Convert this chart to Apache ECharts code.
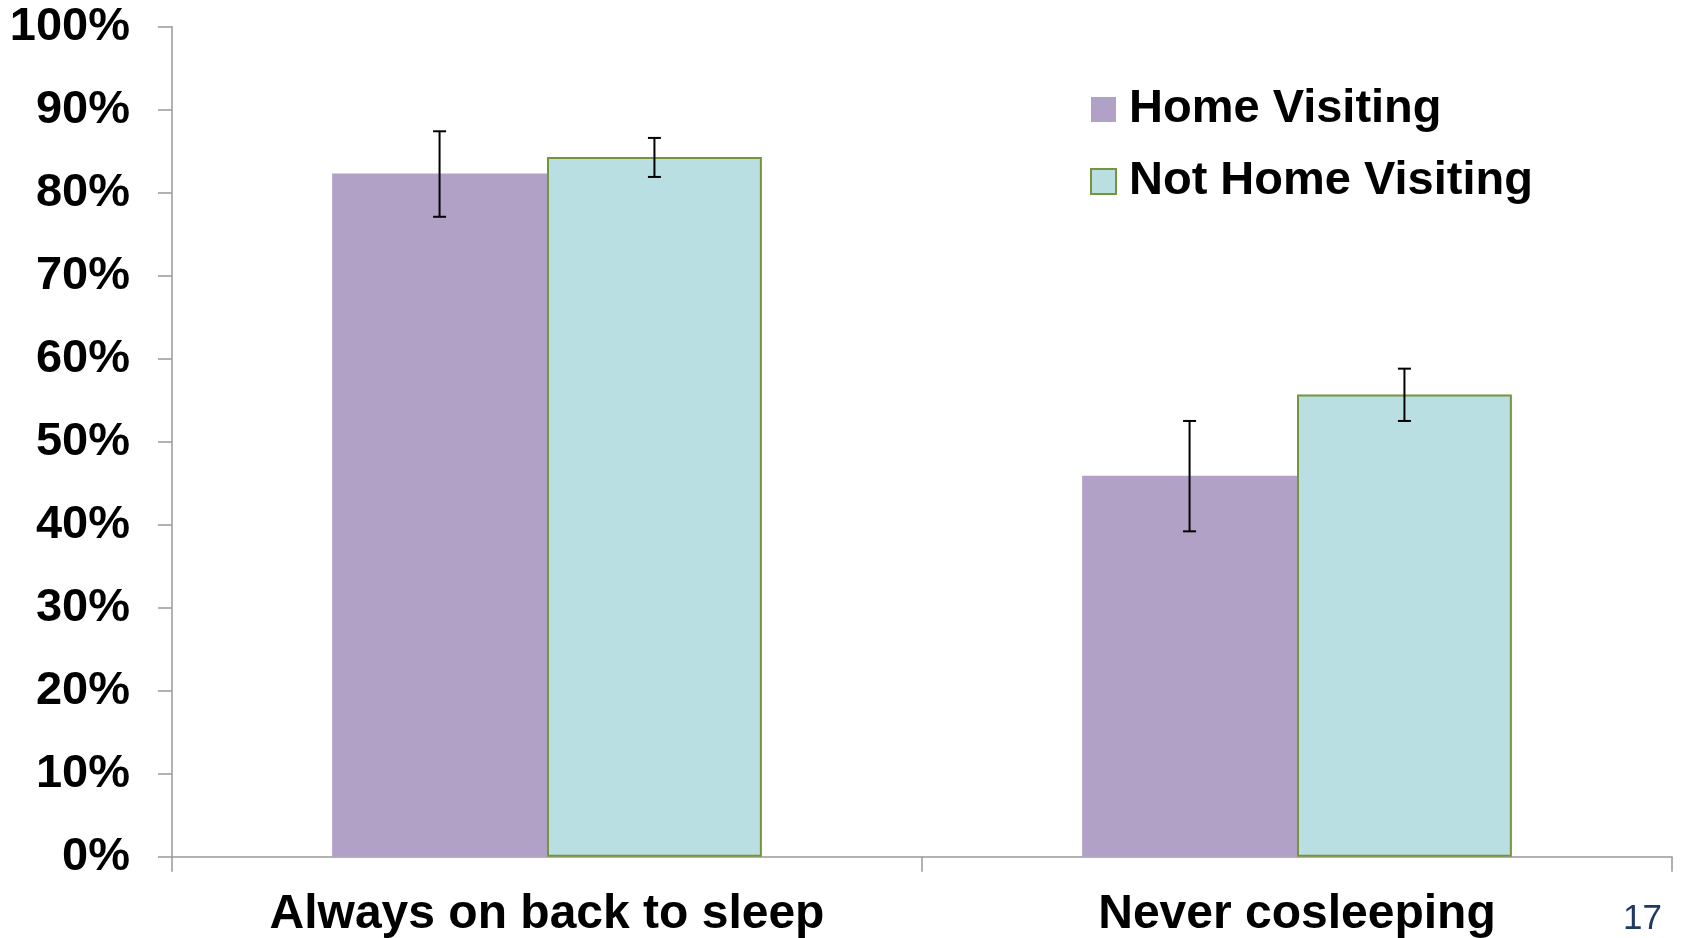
<!DOCTYPE html>
<html>
<head>
<meta charset="utf-8">
<script src="https://cdn.jsdelivr.net/npm/echarts@6/dist/echarts.min.js"></script>
<style>
html,body{margin:0;padding:0;background:#fff;}
#chart{width:1681px;height:938px;}
</style>
</head>
<body>
<div id="chart"></div>
<script>
const categories = ['Always on back to sleep', 'Never cosleeping'];
const seriesNames = ['Home Visiting', 'Not Home Visiting'];
const homeVisiting = [82.3, 45.9];
const homeVisitingLow = [77.1, 39.2];
const homeVisitingHigh = [87.4, 52.5];
const notHomeVisiting = [84.3, 55.7];
const notHomeVisitingLow = [81.9, 52.5];
const notHomeVisitingHigh = [86.6, 58.8];
const yTicks = [0, 10, 20, 30, 40, 50, 60, 70, 80, 90, 100];
const pageNumber = '17';

const CAT_GAP = 0.427;
const FONT = "'Liberation Sans', Arial, sans-serif";

function errorRender(offsetSign) {
  return function (params, api) {
    const ci = api.value(0);
    const lowP = api.coord([ci, api.value(1)]);
    const highP = api.coord([ci, api.value(2)]);
    const catW = api.size([1, 0])[0];
    const barW = catW * (1 - CAT_GAP) / 2;
    const x = lowP[0] + offsetSign * barW / 2;
    const cap = 6.5;
    const style = {stroke: '#000', lineWidth: 2};
    return {
      type: 'group',
      children: [
        {type: 'line', shape: {x1: x, y1: lowP[1], x2: x, y2: highP[1]}, style},
        {type: 'line', shape: {x1: x - cap, y1: lowP[1], x2: x + cap, y2: lowP[1]}, style},
        {type: 'line', shape: {x1: x - cap, y1: highP[1], x2: x + cap, y2: highP[1]}, style}
      ]
    };
  };
}

const chart = echarts.init(document.getElementById('chart'));
chart.setOption({
  animation: false,
  backgroundColor: '#fff',
  grid: {left: 172, right: 9, top: 26.7, bottom: 81.3, containLabel: false, outerBoundsMode: 'none'},
  legend: {
    orient: 'vertical',
    left: 1085,
    top: 80,
    icon: 'rect',
    itemWidth: 25,
    itemHeight: 25,
    itemGap: 23,
    data: seriesNames,
    textStyle: {fontFamily: FONT, fontWeight: 'bold', fontSize: 47, color: '#000', lineHeight: 49, padding: [0, 0, 0, 8]}
  },
  xAxis: {
    type: 'category',
    data: categories,
    axisLine: {lineStyle: {color: '#999', width: 1.5}},
    axisTick: {show: true, length: 15, lineStyle: {color: '#999', width: 1.5}},
    axisLabel: {fontFamily: FONT, fontWeight: 'bold', fontSize: 48, color: '#000', margin: 34}
  },
  yAxis: {
    type: 'value',
    min: 0,
    max: 100,
    interval: 10,
    splitLine: {show: false},
    axisLine: {show: true, lineStyle: {color: '#999', width: 1.5}},
    axisTick: {show: true, length: 14, lineStyle: {color: '#999', width: 1.5}},
    axisLabel: {
      fontFamily: FONT, fontWeight: 'bold', fontSize: 47, color: '#000', margin: 42,
      formatter: function (v) { return yTicks.indexOf(v) >= 0 ? v + '%' : ''; }
    }
  },
  series: [
    {
      name: seriesNames[0],
      type: 'bar',
      data: homeVisiting,
      barGap: '0%',
      barCategoryGap: (CAT_GAP * 100) + '%',
      itemStyle: {color: '#B2A1C7'}
    },
    {
      name: seriesNames[1],
      type: 'bar',
      data: notHomeVisiting,
      barGap: '0%',
      barCategoryGap: (CAT_GAP * 100) + '%',
      itemStyle: {color: '#B9DFE2', borderColor: '#77933C', borderWidth: 2}
    },
    {
      type: 'custom',
      renderItem: errorRender(-1),
      data: categories.map((c, i) => [i, homeVisitingLow[i], homeVisitingHigh[i]]),
      encode: {x: 0, y: [1, 2]},
      z: 10
    },
    {
      type: 'custom',
      renderItem: errorRender(1),
      data: categories.map((c, i) => [i, notHomeVisitingLow[i], notHomeVisitingHigh[i]]),
      encode: {x: 0, y: [1, 2]},
      z: 10
    }
  ],
  graphic: [{
    type: 'text',
    left: 1623,
    top: 902,
    style: {text: pageNumber, fontFamily: FONT, fontSize: 35, fill: '#1F3864'}
  }]
});
</script>
</body>
</html>
